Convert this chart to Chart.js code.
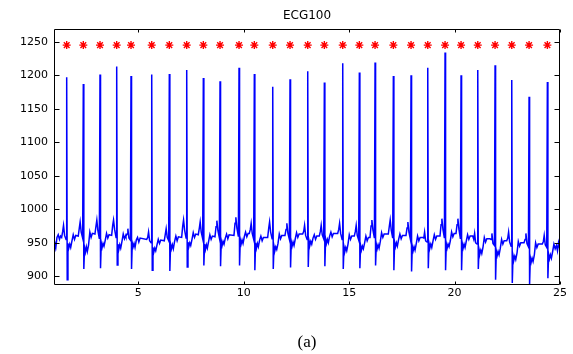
<!DOCTYPE html>
<html>
<head>
<meta charset="utf-8">
<script src="https://cdn.jsdelivr.net/npm/chart.js@4.4.1/dist/chart.umd.min.js"></script>
<style>
  html, body { margin: 0; padding: 0; background: #ffffff; }
  #wrap { width: 573px; height: 354px; }
</style>
</head>
<body>
<div id="wrap"><canvas id="c" width="573" height="354"></canvas></div>
<script>
// ---- tick labels ----
const xTickVals = [5, 10, 15, 20, 25];
const yTickVals = [900, 950, 1000, 1050, 1100, 1150, 1200, 1250];

// ---- R-peak times (s) ----
const beatTimes = [1.602, 2.390, 3.182, 3.974, 4.653, 5.635, 6.470, 7.295, 8.083, 8.875,
                   9.776, 10.502, 11.375, 12.195, 13.035, 13.823, 14.695, 15.483, 16.228, 17.096,
                   17.935, 18.728, 19.548, 20.307, 21.100, 21.920, 22.712, 23.533, 24.401];
const markerLevel = 1245;

// time of each sample of a beat, relative to its R peak (s)
const beatOffsets = [-0.24, -0.19, -0.15, -0.10, -0.03, 0, 0.025, 0.06, 0.10, 0.145, 0.19, 0.25, 0.31, 0.37, 0.43];

// signal values of each beat (one row per beat)
const beatWaves = [
  [958, 967, 976, 961, 955, 1197, 895, 949, 942, 948, 943, 953, 962, 955, 961],
  [960, 972, 981, 966, 957, 1187, 911, 943, 936, 944, 937, 947, 966, 958, 964],
  [963, 975, 984, 968, 956, 1201, 912, 950, 943, 949, 945, 954, 964, 957, 962],
  [961, 976, 984, 970, 958, 1213, 917, 948, 940, 947, 942, 952, 963, 956, 961],
  [960, 963, 971, 957, 954, 1199, 911, 950, 944, 949, 943, 954, 958, 951, 957],
  [955, 958, 966, 953, 950, 1201, 909, 943, 936, 942, 938, 947, 955, 949, 954],
  [953, 963, 971, 958, 953, 1202, 908, 948, 941, 947, 941, 952, 960, 953, 959],
  [958, 975, 984, 969, 957, 1208, 914, 951, 944, 950, 946, 955, 965, 958, 963],
  [962, 972, 981, 966, 956, 1196, 916, 948, 940, 947, 942, 952, 962, 955, 960],
  [959, 974, 983, 968, 957, 1191, 915, 953, 946, 952, 948, 957, 963, 956, 962],
  [961, 979, 988, 972, 959, 1211, 916, 955, 948, 954, 949, 959, 966, 959, 964],
  [964, 970, 979, 964, 955, 1202, 909, 950, 942, 949, 944, 954, 960, 953, 958],
  [958, 972, 981, 966, 956, 1183, 911, 945, 938, 944, 940, 949, 963, 956, 961],
  [961, 970, 979, 964, 955, 1194, 913, 952, 945, 951, 946, 956, 965, 958, 963],
  [963, 967, 976, 961, 955, 1206, 914, 953, 946, 952, 948, 957, 962, 955, 960],
  [960, 967, 976, 962, 956, 1189, 915, 956, 949, 955, 950, 960, 966, 959, 964],
  [964, 970, 979, 964, 955, 1218, 911, 944, 937, 943, 938, 948, 962, 955, 960],
  [960, 967, 976, 961, 954, 1204, 912, 946, 939, 945, 941, 950, 960, 953, 958],
  [958, 975, 984, 969, 957, 1219, 916, 948, 941, 947, 942, 952, 965, 958, 963],
  [963, 975, 984, 969, 957, 1199, 909, 951, 944, 950, 945, 955, 963, 956, 961],
  [961, 972, 981, 966, 955, 1200, 907, 945, 938, 944, 939, 949, 960, 953, 958],
  [958, 957, 966, 953, 951, 1211, 912, 949, 942, 948, 943, 953, 962, 955, 960],
  [960, 977, 986, 970, 957, 1234, 909, 949, 942, 948, 944, 953, 966, 959, 964],
  [964, 977, 986, 970, 956, 1200, 909, 949, 942, 948, 943, 953, 962, 955, 960],
  [960, 955, 964, 950, 948, 1208, 911, 940, 933, 939, 934, 944, 958, 951, 956],
  [956, 955, 964, 949, 946, 1215, 895, 938, 931, 937, 932, 942, 955, 948, 953],
  [953, 957, 966, 951, 945, 1193, 890, 931, 924, 930, 925, 935, 952, 945, 950],
  [950, 955, 964, 949, 944, 1168, 888, 928, 921, 927, 922, 932, 950, 943, 948],
  [948, 952, 961, 947, 943, 1190, 897, 933, 926, 932, 927, 937, 948, 941, 946]
];

// samples before the first beat and after the last one
const leadX = [1.00, 1.04, 1.09, 1.14, 1.20, 1.26, 1.31];
const leadY = [938, 950, 944, 958, 962, 955, 960];
const tailX = [24.88, 24.93, 24.97, 25.00];
const tailY = [938, 950, 944, 948];

// ---- build datasets ----
const trace = [];
leadX.forEach((x, i) => trace.push({ x: x, y: leadY[i] }));
beatTimes.forEach((t, k) => {
  beatOffsets.forEach((o, j) => trace.push({ x: +(t + o).toFixed(3), y: beatWaves[k][j] }));
});
tailX.forEach((x, i) => trace.push({ x: x, y: tailY[i] }));
const markers = beatTimes.map(t => ({ x: t, y: markerLevel }));

const tickFont = { family: "'DejaVu Sans', sans-serif", size: 11 };

const framePlugin = {
  id: 'frame',
  afterDraw(chart) {
    const { ctx, chartArea, scales } = chart;
    const L = Math.round(chartArea.left) + 0.5, R = Math.round(chartArea.right) - 0.5;
    const T = Math.round(chartArea.top) + 0.5, B = Math.round(chartArea.bottom) - 0.5;
    ctx.save();
    ctx.strokeStyle = '#000';
    ctx.lineWidth = 1;
    ctx.beginPath();
    ctx.rect(L, T, R - L, B - T);
    // inward ticks
    yTickVals.forEach(v => {
      const py = Math.round(scales.y.getPixelForValue(v)) + 0.5;
      ctx.moveTo(L, py); ctx.lineTo(L + 5, py);
      ctx.moveTo(R, py); ctx.lineTo(R - 5, py);
    });
    xTickVals.forEach(v => {
      const px = Math.round(scales.x.getPixelForValue(v)) + 0.5;
      ctx.moveTo(px, B); ctx.lineTo(px, B - 3);
      ctx.moveTo(px, T); ctx.lineTo(px, T + 3);
    });
    ctx.stroke();
    ctx.restore();
  }
};

new Chart(document.getElementById('c'), {
  type: 'line',
  data: {
    datasets: [
      {
        data: markers,
        showLine: false,
        pointStyle: 'star',
        pointRadius: 4,
        pointBorderWidth: 1.4,
        pointBorderColor: '#ff0000',
        pointBackgroundColor: '#ff0000',
        xAxisID: 'x', yAxisID: 'y'
      },
      {
        data: trace,
        borderColor: '#0000ff',
        borderWidth: 1.5,
        pointRadius: 0,
        tension: 0,
        fill: false,
        xAxisID: 'x', yAxisID: 'y'
      }
    ]
  },
  options: {
    responsive: false,
    devicePixelRatio: 1,
    animation: false,
    layout: { padding: { left: 0, right: 13, top: 0, bottom: 0 } },
    plugins: { legend: { display: false }, tooltip: { enabled: false } },
    scales: {
      x: {
        type: 'linear', position: 'bottom', min: 1, max: 25,
        grid: { display: false, drawTicks: false },
        border: { display: false },
        afterBuildTicks: s => { s.ticks = xTickVals.map(v => ({ value: v })); },
        ticks: { color: '#000', font: tickFont, padding: 2, maxRotation: 0, autoSkip: false,
                 callback: v => String(v) },
        title: { display: true, text: '(a)', color: '#000',
                 font: { family: "'Liberation Serif', 'Times New Roman', serif", size: 17 },
                 padding: { top: 0, bottom: 1 } },
        afterFit: s => { s.height = 69; }
      },
      xTop: {
        type: 'linear', position: 'top', min: 1, max: 25,
        grid: { display: false, drawTicks: false },
        border: { display: false },
        ticks: { display: false },
        title: { display: true, text: 'ECG100', color: '#000',
                 font: { family: "'DejaVu Sans', sans-serif", size: 12 },
                 padding: { top: 9, bottom: 0 } },
        afterFit: s => { s.height = 29; }
      },
      y: {
        type: 'linear', position: 'left', min: 887, max: 1269,
        grid: { display: false, drawTicks: false },
        border: { display: false },
        afterBuildTicks: s => { s.ticks = yTickVals.map(v => ({ value: v })); },
        ticks: { color: '#000', font: tickFont, padding: 6, autoSkip: false,
                 callback: v => String(v) },
        afterFit: s => { s.width = 54; }
      }
    }
  },
  plugins: [framePlugin]
});
</script>
</body>
</html>
